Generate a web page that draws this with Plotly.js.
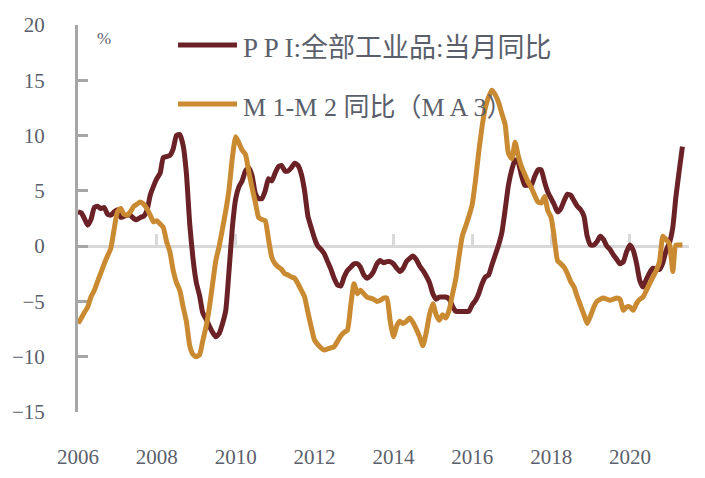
<!DOCTYPE html>
<html>
<head>
<meta charset="utf-8">
<script src="https://cdn.plot.ly/plotly-3.0.1.min.js"></script>
<style>html,body{margin:0;padding:0;background:#fff;}#chart{width:705px;height:478px;}</style>
</head>
<body>
<div id="chart"></div>
<script>
// Monthly series, Jan 2006 .. May 2021
const startYear = 2006;
const startMonth = 1;

const ppi = [
  3.1,3.0,2.5,1.9,2.4,3.5,3.6,3.4,3.5,2.9,2.8,3.1,
  3.3,2.6,2.7,2.8,2.8,2.5,2.4,2.6,2.7,3.2,4.6,5.4,
  6.1,6.6,8.0,8.1,8.2,8.8,10.0,10.1,9.1,6.6,2.0,-1.1,
  -3.3,-4.5,-6.0,-6.6,-7.2,-7.8,-8.2,-7.9,-7.0,-5.8,-2.1,1.7,
  4.3,5.4,5.9,6.8,7.1,6.4,4.8,4.3,4.3,5.0,6.1,5.9,
  6.6,7.2,7.3,6.8,6.8,7.1,7.5,7.3,6.5,5.0,2.7,1.7,
  0.7,0.0,-0.3,-0.7,-1.4,-2.1,-2.9,-3.5,-3.6,-2.8,-2.2,-1.9,
  -1.6,-1.6,-1.9,-2.6,-2.9,-2.7,-2.3,-1.6,-1.3,-1.5,-1.4,-1.4,
  -1.6,-2.0,-2.3,-2.0,-1.4,-1.1,-0.9,-1.2,-1.8,-2.2,-2.7,-3.3,
  -4.3,-4.8,-4.6,-4.6,-4.6,-4.8,-5.4,-5.9,-5.9,-5.9,-5.9,-5.9,
  -5.3,-4.9,-4.3,-3.4,-2.8,-2.6,-1.7,-0.8,0.1,1.2,3.3,5.5,
  6.9,7.8,7.6,6.4,5.5,5.5,5.5,6.3,6.9,6.9,5.8,4.9,
  4.3,3.7,3.1,3.4,4.1,4.7,4.6,4.1,3.6,3.3,2.7,0.9,
  0.1,0.1,0.4,0.9,0.6,0.0,-0.3,-0.8,-1.2,-1.6,-1.4,-0.5,
  0.1,-0.4,-1.5,-3.1,-3.7,-3.0,-2.4,-2.0,-2.1,-2.1,-1.5,-0.4,
  0.3,1.7,4.4,6.8,9.0
];

const m1m2 = [
  -7.0,-6.5,-6.0,-5.5,-4.6,-4.0,-3.2,-2.4,-1.6,-0.9,-0.2,1.5,
  3.1,3.4,2.9,2.8,3.1,3.6,3.8,4.0,3.8,3.4,2.8,2.2,
  2.3,2.0,1.7,0.4,-0.5,-2.2,-3.3,-4.0,-5.5,-6.8,-9.0,-9.8,
  -10.0,-9.8,-8.6,-7.3,-5.6,-3.4,-1.3,0.0,1.6,3.2,5.2,8.0,
  9.9,9.3,8.7,8.3,6.8,5.3,4.0,2.6,2.4,2.3,0.6,-1.0,
  -1.6,-1.9,-2.1,-2.5,-2.6,-2.8,-2.9,-3.4,-4.0,-4.6,-6.0,-7.3,
  -8.5,-8.9,-9.2,-9.4,-9.3,-9.2,-9.1,-8.6,-8.1,-7.8,-7.6,-5.4,
  -3.4,-4.3,-4.0,-4.3,-4.6,-4.7,-4.8,-5.0,-4.9,-4.7,-4.7,-6.7,
  -8.2,-7.2,-6.8,-7.0,-6.8,-6.5,-6.9,-7.5,-8.2,-9.0,-7.8,-6.2,
  -5.2,-6.2,-6.7,-6.2,-6.5,-5.8,-4.4,-3.0,-0.9,0.9,1.8,2.7,
  3.8,6.0,8.5,10.8,12.5,13.5,14.1,13.7,13.0,12.0,11.0,8.4,
  7.9,9.4,8.2,7.2,6.5,5.8,5.3,4.6,4.0,3.9,4.5,3.2,
  2.6,0.6,-1.3,-1.6,-1.9,-2.5,-3.2,-3.7,-4.6,-5.4,-6.2,-7.0,
  -6.3,-5.5,-5.0,-4.8,-4.7,-4.8,-4.9,-4.8,-4.7,-4.8,-5.8,-5.5,
  -5.5,-5.8,-5.2,-4.8,-4.6,-4.0,-3.4,-2.8,-2.2,-1.4,0.9,0.6,
  0.2,-2.3,0.1,0.1,0.1
];

const tickYears = ['2006','2008','2010','2012','2014','2016','2018','2020'];
const seriesNames = ['P P I:全部工业品:当月同比', 'M 1-M 2 同比（M A 3）'];
const seriesColors = ['#6B2226', '#C98A32'];

function monthDates(n) {
  const out = [];
  for (let i = 0; i < n; i++) {
    const total = (startMonth - 1) + i;
    const y = startYear + Math.floor(total / 12);
    const m = (total % 12) + 1;
    out.push(y + '-' + String(m).padStart(2, '0') + '-01');
  }
  return out;
}

const dates = monthDates(ppi.length);
const tickVals = tickYears.map(y => y + '-01-01');

const serif = '"Liberation Serif", "Noto Sans CJK SC", serif';
const txtColor = '#5B5F6B';

const traces = [
  {x: dates, y: ppi, type: 'scatter', mode: 'lines', name: seriesNames[0],
   line: {color: seriesColors[0], width: 5, shape: 'spline', smoothing: 0.5}, showlegend: false, xaxis: 'x', yaxis: 'y'},
  {x: dates, y: m1m2, type: 'scatter', mode: 'lines', name: seriesNames[1],
   line: {color: seriesColors[1], width: 5, shape: 'spline', smoothing: 0.5}, showlegend: false, xaxis: 'x2', yaxis: 'y'}
];

const xRange = ['2006-01-01', '2021-07-01'];
const yRange = [-15, 20];

const layout = {
  width: 705, height: 478,
  margin: {l: 78, r: 16, t: 25, b: 66},
  paper_bgcolor: '#ffffff', plot_bgcolor: '#ffffff',
  showlegend: false,
  xaxis: {
    type: 'date', range: xRange, tickvals: tickVals, ticktext: tickYears,
    showline: false, ticks: '', showgrid: false, zeroline: false,
    tickfont: {family: serif, size: 21, color: txtColor},
    ticklabelstandoff: 30
  },
  xaxis2: {
    type: 'date', range: xRange, overlaying: 'x', anchor: 'free',
    position: (0 - yRange[0]) / (yRange[1] - yRange[0]),
    side: 'bottom', tickvals: tickVals, showticklabels: false,
    showline: true, linecolor: '#D9D9D9', linewidth: 3,
    ticks: 'inside', ticklen: 11, tickwidth: 3, tickcolor: '#D9D9D9',
    showgrid: false, zeroline: false, layer: 'below traces'
  },
  yaxis: {
    range: yRange, tick0: -15, dtick: 5, showgrid: false, zeroline: false,
    showline: true, linecolor: '#A6A6A6', linewidth: 3,
    ticks: 'inside', ticklen: 10, tickwidth: 3, tickcolor: '#A6A6A6',
    tickfont: {family: serif, size: 21, color: txtColor},
    ticklabelstandoff: 26, layer: 'below traces'
  },
  shapes: [
    {type: 'line', xref: 'paper', yref: 'paper', x0: 0.1637, x1: 0.2602, y0: 0.948, y1: 0.948,
     line: {color: seriesColors[0], width: 5}},
    {type: 'line', xref: 'paper', yref: 'paper', x0: 0.1637, x1: 0.2602, y0: 0.796, y1: 0.796,
     line: {color: seriesColors[1], width: 5}}
  ],
  annotations: [
    {xref: 'paper', yref: 'paper', x: 0.266, y: 0.940, xanchor: 'left', yanchor: 'middle',
     text: seriesNames[0], showarrow: false, font: {family: serif, size: 27, color: txtColor}},
    {xref: 'paper', yref: 'paper', x: 0.266, y: 0.786, xanchor: 'left', yanchor: 'middle',
     text: seriesNames[1], showarrow: false, font: {family: serif, size: 26, color: txtColor}},
    {xref: 'paper', yref: 'paper', x: 0.042, y: 0.965, xanchor: 'center', yanchor: 'middle',
     text: '%', showarrow: false, font: {family: serif, size: 17, color: txtColor}}
  ]
};

Plotly.newPlot('chart', traces, layout, {staticPlot: true, displayModeBar: false});
</script>
</body>
</html>
